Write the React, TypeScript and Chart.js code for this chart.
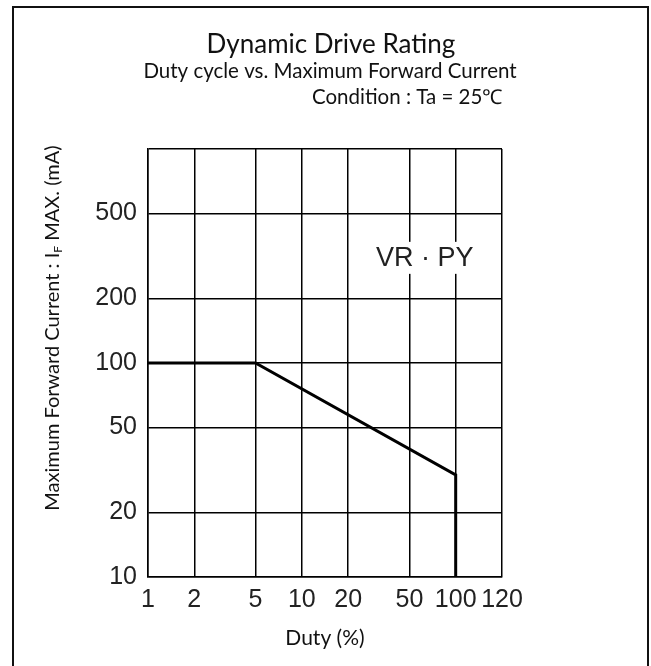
import React, { useEffect, useRef } from 'react';
import { Chart, registerables } from 'chart.js';

Chart.register(...registerables);

// ---- text ----
const TITLE = 'Dynamic Drive Rating';
const SUBTITLE = 'Duty cycle vs. Maximum Forward Current';
const CONDITION = 'Condition : Ta = 25\u2103';
const Y_TITLE_MAIN = 'Maximum Forward Current : I';
const Y_TITLE_SUB = 'F';
const Y_TITLE_TAIL = ' MAX. (mA)';
const X_TITLE = 'Duty (%)';
const SERIES_LABEL = 'VR \u00B7 PY';

// ---- data ----
const dutyPercent = [1, 5, 100, 100];
const maxCurrentMA = [100, 100, 30, 10];

// ---- axes ----
const xTickValues = [1, 2, 5, 10, 20, 50, 100, 200];
const xTickLabels = ['1', '2', '5', '10', '20', '50', '100', '120'];
const yTickValues = [10, 20, 50, 100, 200, 500, 1000];
const yTickLabels = ['10', '20', '50', '100', '200', '500', ''];

// label anchor (data coordinates)
const seriesLabelAnchor = { x: 63, y: 310 };

const INK = '#111';
const TICK_INK = '#222';
const HEAD_FONT = 'Lato, "Open Sans", sans-serif';
const TICK_FONT = '"Liberation Sans", Arial, sans-serif';

const textPlugin = {
  id: 'drawTexts',
  afterDatasetsDraw(chart: any) {
    const ctx = chart.ctx as CanvasRenderingContext2D;
    const xs = chart.scales.x;
    const ys = chart.scales.y;
    ctx.save();
    const lx = xs.getPixelForValue(seriesLabelAnchor.x);
    const ly = ys.getPixelForValue(seriesLabelAnchor.y);
    ctx.font = `27px ${TICK_FONT}`;
    const w = ctx.measureText(SERIES_LABEL).width;
    ctx.fillStyle = '#fff';
    ctx.fillRect(lx - w / 2 - 3, ly - 16, w + 6, 32);
    ctx.fillStyle = '#222';
    ctx.textAlign = 'center';
    ctx.textBaseline = 'middle';
    ctx.fillText(SERIES_LABEL, lx, ly + 1);
    ctx.restore();
  },
  afterDraw(chart: any) {
    const ctx = chart.ctx as CanvasRenderingContext2D;
    ctx.save();
    ctx.fillStyle = INK;
    ctx.textBaseline = 'alphabetic';
    ctx.textAlign = 'center';
    ctx.font = `26px ${HEAD_FONT}`;
    ctx.fillText(TITLE, 331, 53);
    ctx.font = `20.5px ${HEAD_FONT}`;
    ctx.fillText(SUBTITLE, 330, 78);
    ctx.textAlign = 'left';
    ctx.font = `20.5px ${HEAD_FONT}`;
    ctx.fillText(CONDITION, 312, 104);

    // rotated y title with subscript
    const mainFont = `20px ${HEAD_FONT}`;
    const subFont = `12px ${HEAD_FONT}`;
    ctx.font = mainFont;
    const w1 = ctx.measureText(Y_TITLE_MAIN).width;
    const w3 = ctx.measureText(Y_TITLE_TAIL).width;
    ctx.font = subFont;
    const w2 = ctx.measureText(Y_TITLE_SUB).width;
    const total = w1 + w2 + w3;
    ctx.translate(53, 328);
    ctx.rotate(-Math.PI / 2);
    ctx.textBaseline = 'middle';
    ctx.textAlign = 'left';
    let x0 = -total / 2;
    ctx.font = mainFont;
    ctx.fillText(Y_TITLE_MAIN, x0, 0);
    x0 += w1;
    ctx.font = subFont;
    ctx.fillText(Y_TITLE_SUB, x0, 5);
    x0 += w2;
    ctx.font = mainFont;
    ctx.fillText(Y_TITLE_TAIL, x0, 0);
    ctx.restore();
  },
};

export default function App() {
  const ref = useRef<HTMLCanvasElement | null>(null);

  useEffect(() => {
    const prevMargin = document.body.style.margin;
    document.body.style.margin = '0';
    const canvas = ref.current;
    if (!canvas) return;
    const chart = new Chart(canvas, {
      type: 'line',
      data: {
        datasets: [
          {
            label: 'VR · PY',
            data: dutyPercent.map((d, i) => ({ x: d, y: maxCurrentMA[i] })),
            borderColor: '#000',
            borderWidth: 3,
            pointRadius: 0,
            fill: false,
            tension: 0,
            borderJoinStyle: 'miter',
          },
        ],
      },
      options: {
        responsive: false,
        animation: false,
        events: [],
        layout: { padding: { left: 0, right: 149, top: 149, bottom: 0 } },
        plugins: {
          legend: { display: false },
          tooltip: { enabled: false },
          title: { display: false },
        },
        scales: {
          x: {
            type: 'logarithmic',
            min: 1,
            max: 200,
            afterBuildTicks: (s: any) => {
              s.ticks = xTickValues.map((v) => ({ value: v }));
            },
            afterFit: (s: any) => {
              s.height = 89;
            },
            grid: { color: '#000', lineWidth: 1.5, drawTicks: false },
            border: { color: '#000', width: 1.5 },
            ticks: {
              autoSkip: false,
              maxRotation: 0,
              minRotation: 0,
              padding: 8,
              color: TICK_INK,
              font: { family: TICK_FONT, size: 25 },
              callback: (_v: any, i: number) => xTickLabels[i],
            },
            title: {
              display: true,
              text: X_TITLE,
              color: INK,
              font: { family: HEAD_FONT, size: 21 },
              padding: { top: 0, bottom: 15 },
            },
          },
          y: {
            type: 'logarithmic',
            min: 10,
            max: 1000,
            afterBuildTicks: (s: any) => {
              s.ticks = yTickValues.map((v) => ({ value: v }));
            },
            afterFit: (s: any) => {
              s.width = 148;
            },
            grid: { color: '#000', lineWidth: 1.5, drawTicks: false },
            border: { color: '#000', width: 1.5 },
            ticks: {
              autoSkip: false,
              padding: 11,
              color: TICK_INK,
              font: { family: TICK_FONT, size: 25 },
              callback: (_v: any, i: number) => yTickLabels[i],
            },
          },
        },
      },
      plugins: [textPlugin],
    });
    return () => {
      chart.destroy();
      document.body.style.margin = prevMargin;
    };
  }, []);

  return (
    <div style={{ position: 'fixed', left: 0, top: 0, width: 651, height: 666, background: '#fff', overflow: 'hidden' }}>
      <canvas ref={ref} width={651} height={666} style={{ position: 'absolute', left: 0, top: 0 }} />
      <div
        style={{
          position: 'absolute',
          left: 12,
          top: 6,
          width: 637,
          height: 660,
          boxSizing: 'border-box',
          borderTop: '2px solid #111',
          borderLeft: '2px solid #111',
          borderRight: '2px solid #111',
          pointerEvents: 'none',
        }}
      />
    </div>
  );
}
